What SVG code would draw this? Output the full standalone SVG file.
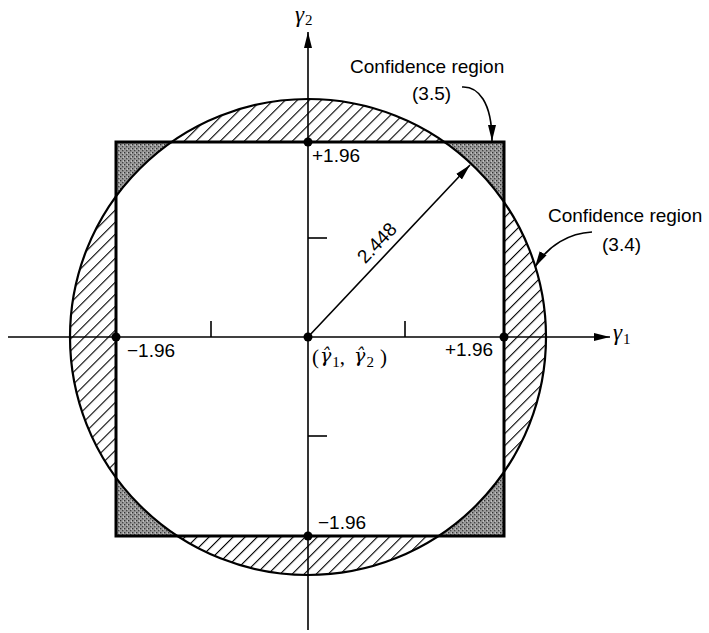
<svg xmlns="http://www.w3.org/2000/svg" width="709" height="633" viewBox="0 0 709 633">
<style>
.num{font-family:"Liberation Sans",Arial,sans-serif;font-size:19px;fill:#000}
.lab{font-family:"Liberation Sans",Arial,sans-serif;font-size:19px;fill:#000}
.g{font-family:"Liberation Serif","Times New Roman",serif;font-style:italic;font-size:23px;fill:#000}
.gh{font-family:"DejaVu Serif",serif;font-style:italic;font-size:19px;fill:#000}
.sub{font-family:"Liberation Serif","Times New Roman",serif;font-style:normal;font-size:15px;fill:#000}
.p{font-family:"Liberation Serif","Times New Roman",serif;font-size:21px;fill:#000}
.ax{stroke:#000;stroke-width:1.6;fill:none}
.conn{stroke:#000;stroke-width:1.6;fill:none}
.dot{fill:#000}
</style>
<defs>
<pattern id="hatch" patternUnits="userSpaceOnUse" width="8.5" height="8.5" patternTransform="rotate(45)">
<rect width="8.5" height="8.5" fill="#fff"/>
<line x1="0" y1="0" x2="0" y2="8.5" stroke="#000" stroke-width="2.2"/>
</pattern>
<pattern id="stip" patternUnits="userSpaceOnUse" width="4" height="4">
<rect width="4" height="4" fill="#9a9a9a"/>
<rect x="0" y="0" width="1.3" height="1.3" fill="#333"/>
<rect x="2" y="2" width="1.3" height="1.3" fill="#444"/>
<rect x="3" y="0.6" width="1" height="1" fill="#ddd"/>
</pattern>
<clipPath id="sq"><rect x="116" y="142" width="388" height="394"/></clipPath>
<marker id="arr" markerUnits="userSpaceOnUse" markerWidth="16" markerHeight="10" viewBox="0 0 16 10" refX="16" refY="5" orient="auto">
<path d="M0,1 L16,5 L0,9 z" fill="#000"/>
</marker>
</defs>
<rect width="709" height="633" fill="#fff"/>

<g id="region-3-4">
<circle cx="308" cy="337" r="238" fill="url(#hatch)"/>
</g>
<g id="region-3-5">
<rect x="116" y="142" width="388" height="394" fill="url(#stip)"/>
<circle cx="308" cy="337" r="238" fill="#fff" clip-path="url(#sq)"/>
<circle cx="308" cy="337" r="238" fill="none" stroke="#000" stroke-width="2.2"/>
<rect x="116" y="142" width="388" height="394" fill="none" stroke="#000" stroke-width="3"/>
</g>

<g id="axes">
<line class="ax" x1="8" y1="337" x2="610" y2="337" marker-end="url(#arr)"/>
<line class="ax" x1="308" y1="630" x2="308" y2="32" marker-end="url(#arr)"/>
<line class="ax" x1="211" y1="337" x2="211" y2="321"/>
<line class="ax" x1="405" y1="337" x2="405" y2="321"/>
<line class="ax" x1="308" y1="238" x2="327" y2="238"/>
<line class="ax" x1="308" y1="436" x2="327" y2="436"/>
<text x="613" y="340"><tspan class="g">γ</tspan><tspan class="sub" dx="1" dy="4">1</tspan></text>
<text x="295" y="22"><tspan class="g">γ</tspan><tspan class="sub" dx="1" dy="3">2</tspan></text>
</g>

<g id="points">
<circle class="dot" cx="308" cy="142" r="4.5"/>
<circle class="dot" cx="308" cy="536" r="4.5"/>
<circle class="dot" cx="116" cy="337" r="4.5"/>
<circle class="dot" cx="504" cy="337" r="4.5"/>
<circle class="dot" cx="308" cy="337" r="4.5"/>
<text class="num" x="312" y="162">+1.96</text>
<text class="num" x="318" y="529">−1.96</text>
<text class="num" x="127" y="357">−1.96</text>
<text class="num" x="445" y="356">+1.96</text>
</g>

<g id="center-label">
<text class="p" x="312" y="364">(<tspan class="gh" dx="1" dy="-2">γ̂</tspan><tspan class="sub" dx="1" dy="5">1</tspan><tspan dy="-3">,</tspan><tspan class="gh" dx="9" dy="-2">γ̂</tspan><tspan class="sub" dx="1" dy="5">2</tspan><tspan dx="6" dy="-3">)</tspan></text>
</g>

<g id="label-3-5">
<text class="lab" x="350" y="73">Confidence region</text>
<text class="lab" x="412" y="100">(3.5)</text>
</g>
<g id="label-3-4">
<text class="lab" x="548" y="222">Confidence region</text>
<text class="lab" x="602" y="251">(3.4)</text>
</g>

<g id="connectors">
<line class="conn" x1="308" y1="337" x2="470" y2="165" marker-end="url(#arr)"/>
<text class="num" x="381.6" y="247.3" text-anchor="middle" transform="rotate(-46.7 381.6 247.3)">2.448</text>
<path class="conn" d="M462,87 C478,86 492,102 492,141" marker-end="url(#arr)"/>
<path class="conn" d="M592,232 C570,233 548,245 535,267" marker-end="url(#arr)"/>
</g>
</svg>
